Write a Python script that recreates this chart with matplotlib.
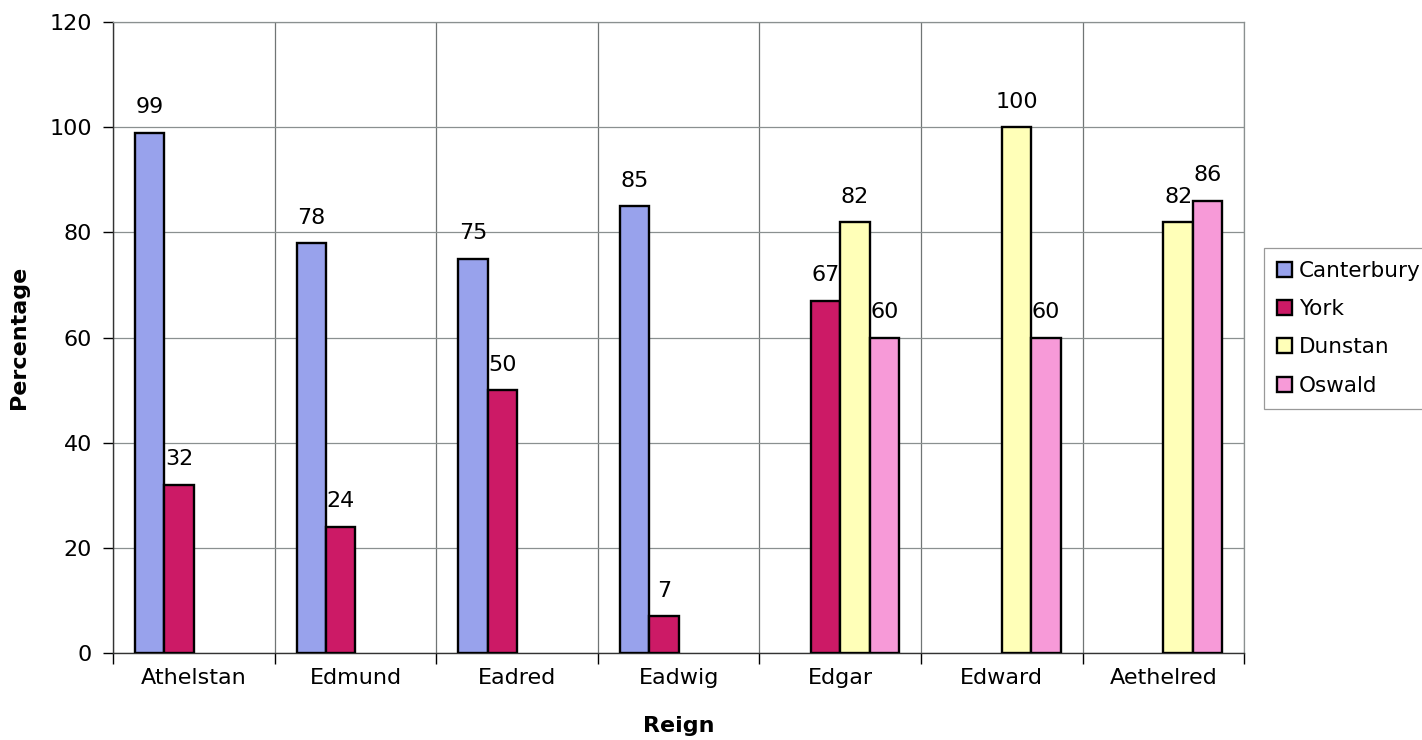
import numpy as np
import matplotlib
matplotlib.use("Agg")
import matplotlib.pyplot as plt
from matplotlib.patches import Patch

# Reigns along the x axis
reigns = ["Athelstan", "Edmund", "Eadred", "Eadwig", "Edgar", "Edward", "Aethelred"]

# Percentages per series (None = no bar for that reign)
canterbury = [99, 78, 75, 85, None, None, None]
york = [32, 24, 50, 7, 67, None, None]
dunstan = [None, None, None, None, 82, 100, 82]
oswald = [None, None, None, None, 60, 60, 86]

series_names = ["Canterbury", "York", "Dunstan", "Oswald"]
series_colors = ["#98A2EC", "#CC1A66", "#FFFFB8", "#F79AD8"]

plt.rcParams["font.family"] = "DejaVu Sans"
plt.rcParams["font.size"] = 16

fig = plt.figure(figsize=(14.22, 7.4), dpi=100)
ax = fig.add_axes([0.0795, 0.1176, 0.7955, 0.8524])

x = np.arange(len(reigns))
w = 1 / 5.5  # four slots plus a 150% gap

for j, (vals, col) in enumerate(zip([canterbury, york, dunstan, oswald], series_colors)):
    pos = x + (j - 1.5) * w
    for xi, v in zip(pos, vals):
        if v is None:
            continue
        ax.bar(xi, v, width=w, color=col, edgecolor="black", linewidth=1.7, zorder=3)
        ax.annotate(str(v), (xi, v), xytext=(0, 14), textcoords="offset points",
                    ha="center", va="baseline", fontsize=16)

ax.set_xlim(-0.5, len(reigns) - 0.5)
ax.set_ylim(0, 120)
ax.set_yticks(range(0, 121, 20))

# category labels centred, ticks and gridlines on the boundaries
ax.set_xticks(x)
ax.set_xticklabels(reigns)
ax.tick_params(axis="x", which="major", length=0, pad=11)
ax.set_xticks(np.arange(-0.5, len(reigns), 1), minor=True)
ax.tick_params(axis="x", which="minor", length=8, direction="out", width=1)
ax.tick_params(axis="y", length=7, direction="out", width=1, pad=8)

ax.grid(axis="y", which="major", color="#8a9090", linewidth=0.9, zorder=0)
ax.grid(axis="x", which="minor", color="#707575", linewidth=0.9, zorder=0)
ax.set_axisbelow(True)

for s in ["top", "right"]:
    ax.spines[s].set_color("#8a9090")
    ax.spines[s].set_linewidth(0.9)
for s in ["left", "bottom"]:
    ax.spines[s].set_color("#333333")
    ax.spines[s].set_linewidth(1.0)

ax.set_ylabel("Percentage", fontweight="bold", fontsize=16, labelpad=15)
ax.set_xlabel("Reign", fontweight="bold", fontsize=16, labelpad=20)

handles = [Patch(facecolor=c, edgecolor="black", linewidth=1.7) for c in series_colors]
leg = fig.legend(handles, series_names, loc="upper left", bbox_to_anchor=(0.889, 0.665),
                 fontsize=15.5, handlelength=0.7, handleheight=0.7, handletextpad=0.3,
                 labelspacing=0.85, borderpad=0.6, borderaxespad=0, fancybox=False,
                 edgecolor="#999999", framealpha=1)
leg.get_frame().set_linewidth(0.9)

fig.savefig("out.png", dpi=100)
